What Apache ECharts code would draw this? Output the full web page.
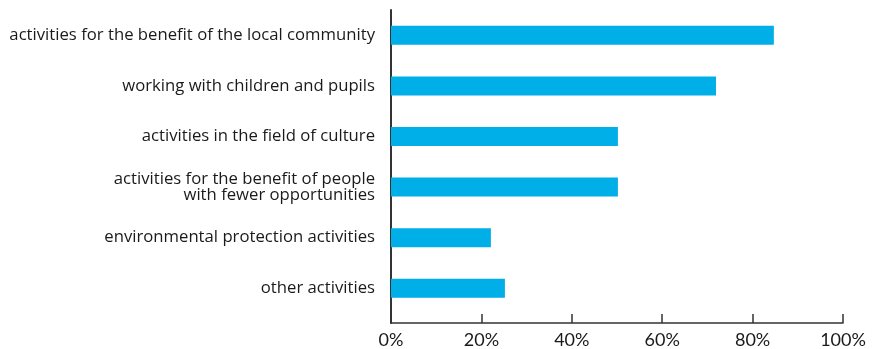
<!DOCTYPE html>
<html>
<head>
<meta charset="utf-8">
<script src="https://cdn.jsdelivr.net/npm/echarts@6/dist/echarts.min.js"></script>
<style>
  html, body { margin: 0; padding: 0; background: #fff; }
  #chart { width: 872px; height: 349px; }
</style>
</head>
<body>
<div id="chart"></div>
<script>
const categories = [
    'activities for the benefit of the local community',
    'working with children and pupils',
    'activities in the field of culture',
    'activities for the benefit of people\nwith fewer opportunities',
    'environmental protection activities',
    'other activities',
];
const shares = [84.7, 71.9, 50.2, 50.2, 22.1, 25.2];
const tickValues = [0, 20, 40, 60, 80, 100];

const LABEL_FONT = '"Open Sans"';
const TICK_FONT = 'Lato';
const AXIS_COLOR = '#333333';

const chart = echarts.init(document.getElementById('chart'));

chart.setOption({
    animation: false,
    grid: [
        // bars
        { left: 391, right: 29, top: 10, bottom: 35.4 },
        // axis frame, reaches a bit lower than the bars
        { left: 391, right: 29, top: 10, bottom: 23 },
    ],
    xAxis: [
        { gridIndex: 0, type: 'value', min: 0, max: 100, show: false },
        {
            gridIndex: 1,
            type: 'value',
            min: 0,
            max: 100,
            interval: 20,
            axisLine: { show: true, lineStyle: { color: AXIS_COLOR, width: 1.5 } },
            axisTick: { show: true, inside: true, length: 9, lineStyle: { color: AXIS_COLOR, width: 1.5 } },
            splitLine: { show: false },
            axisLabel: {
                formatter: (v) => (tickValues.includes(v) ? v + '%' : ''),
                color: '#1a1a1a',
                fontFamily: TICK_FONT,
                fontSize: 18,
                margin: 8,
            },
        },
    ],
    yAxis: [
        {
            gridIndex: 0,
            type: 'category',
            data: categories,
            inverse: true,
            axisLine: { show: false },
            axisTick: { show: false },
            axisLabel: {
                color: '#1a1a1a',
                fontFamily: LABEL_FONT,
                fontSize: 16.7,
                lineHeight: 16,
                margin: 16,
                align: 'right',
            },
        },
        {
            gridIndex: 1,
            type: 'value',
            axisLine: { show: true, lineStyle: { color: AXIS_COLOR, width: 2 } },
            axisTick: { show: false },
            axisLabel: { show: false },
            splitLine: { show: false },
        },
    ],
    series: [
        {
            type: 'bar',
            xAxisIndex: 0,
            yAxisIndex: 0,
            data: shares,
            barWidth: 19,
            itemStyle: { color: '#00AEE8' },
        },
    ],
});
</script>
</body>
</html>
